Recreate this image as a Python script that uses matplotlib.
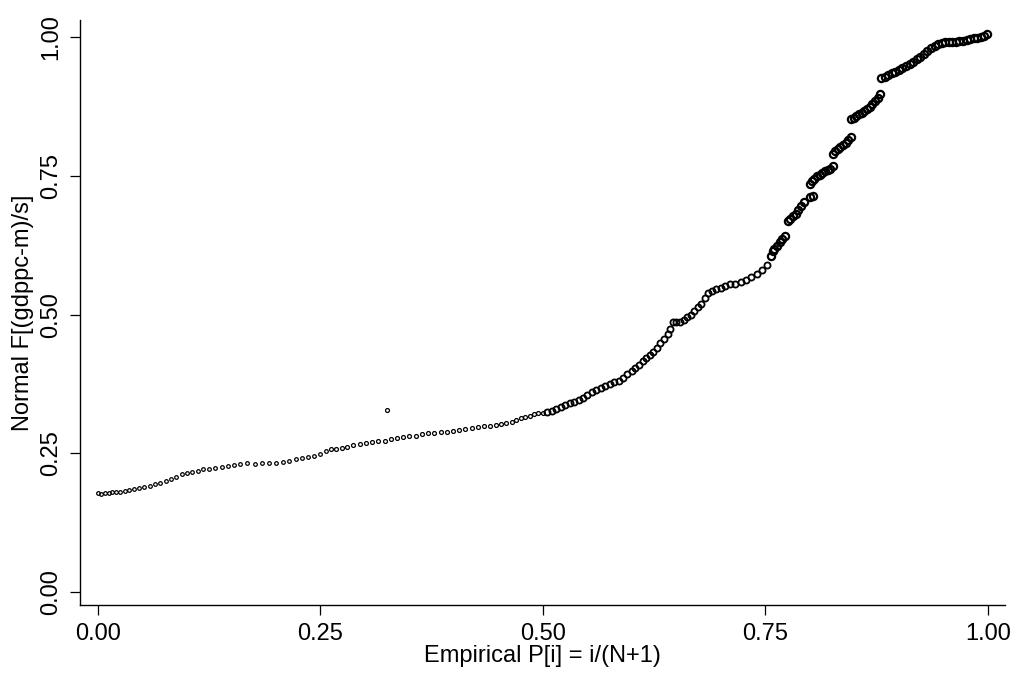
import matplotlib
matplotlib.use('Agg')
import matplotlib.pyplot as plt

# points, in pieces along the curve
# lower, flat part
p_low = [0.000, 0.004, 0.008, 0.012, 0.016, 0.020, 0.025, 0.030, 0.035, 0.040,
         0.046, 0.052, 0.058, 0.064, 0.070, 0.076, 0.082, 0.088, 0.094, 0.100,
         0.106, 0.112, 0.118, 0.125, 0.132, 0.139, 0.146, 0.153, 0.160, 0.168,
         0.176, 0.184, 0.192, 0.200, 0.208, 0.215, 0.222, 0.229, 0.236, 0.243,
         0.250, 0.256]
f_low = [0.178, 0.176, 0.179, 0.178, 0.180, 0.181, 0.180, 0.183, 0.184, 0.186,
         0.187, 0.190, 0.192, 0.194, 0.197, 0.200, 0.204, 0.208, 0.212, 0.215,
         0.217, 0.219, 0.221, 0.222, 0.224, 0.225, 0.227, 0.229, 0.231, 0.232,
         0.231, 0.232, 0.233, 0.233, 0.234, 0.236, 0.239, 0.241, 0.243, 0.246,
         0.249, 0.254]

# middle part, up to 0.50
p_mid = [0.262, 0.268, 0.274, 0.280, 0.287, 0.294, 0.301, 0.308, 0.315, 0.322,
         0.325, 0.329, 0.336, 0.343, 0.350, 0.357, 0.364, 0.371, 0.378, 0.385,
         0.392, 0.399, 0.406, 0.413, 0.420, 0.427, 0.434, 0.441, 0.447, 0.453,
         0.459, 0.465, 0.470, 0.475, 0.480, 0.485, 0.490, 0.495, 0.500]
f_mid = [0.257, 0.258, 0.260, 0.262, 0.265, 0.267, 0.269, 0.271, 0.272, 0.273,
         0.328, 0.275, 0.277, 0.279, 0.281, 0.282, 0.284, 0.286, 0.287, 0.288,
         0.289, 0.290, 0.292, 0.294, 0.295, 0.297, 0.299, 0.300, 0.301, 0.302,
         0.304, 0.307, 0.310, 0.314, 0.316, 0.318, 0.320, 0.322, 0.323]

# steep part, 0.50 - 0.75
p_steep = [0.505, 0.510, 0.515, 0.520, 0.525, 0.530, 0.535, 0.540, 0.545, 0.550,
           0.555, 0.560, 0.565, 0.570, 0.575, 0.580, 0.585, 0.590, 0.595, 0.600,
           0.604, 0.608, 0.612, 0.616, 0.620, 0.624, 0.628, 0.632, 0.636, 0.640,
           0.643, 0.646, 0.650, 0.654, 0.658, 0.662, 0.666, 0.670, 0.674, 0.678,
           0.682, 0.686, 0.690, 0.695, 0.700, 0.705, 0.710, 0.716, 0.722, 0.728,
           0.734, 0.740, 0.746, 0.752]
f_steep = [0.324, 0.327, 0.330, 0.333, 0.337, 0.340, 0.342, 0.346, 0.350, 0.356,
           0.360, 0.364, 0.368, 0.371, 0.375, 0.378, 0.381, 0.386, 0.393, 0.399,
           0.404, 0.410, 0.416, 0.422, 0.427, 0.432, 0.440, 0.448, 0.456, 0.465,
           0.474, 0.486, 0.487, 0.486, 0.490, 0.495, 0.500, 0.506, 0.513, 0.520,
           0.530, 0.539, 0.543, 0.546, 0.548, 0.552, 0.555, 0.556, 0.559, 0.563,
           0.567, 0.573, 0.580, 0.589]

# upper clusters
p_top = [0.756, 0.758, 0.760, 0.763, 0.766, 0.769, 0.772,
         0.775, 0.778, 0.781, 0.784, 0.787, 0.790, 0.793,
         0.800, 0.804,
         0.800, 0.802, 0.805, 0.808, 0.811, 0.814, 0.817, 0.820, 0.823, 0.826,
         0.826, 0.828, 0.831, 0.834, 0.837, 0.840, 0.843, 0.846,
         0.846, 0.849, 0.852, 0.855, 0.858, 0.861, 0.864, 0.867, 0.870, 0.873,
         0.876, 0.879,
         0.880, 0.884, 0.888, 0.892, 0.896, 0.900, 0.904, 0.908, 0.912, 0.916,
         0.920, 0.924, 0.928, 0.932, 0.936, 0.940, 0.944,
         0.948, 0.952, 0.956, 0.960, 0.964, 0.968, 0.972, 0.976, 0.980, 0.984,
         0.988, 0.992, 0.996, 0.999]
f_top = [0.605, 0.614, 0.618, 0.624, 0.630, 0.636, 0.642,
         0.668, 0.672, 0.677, 0.682, 0.688, 0.695, 0.703,
         0.712, 0.713,
         0.735, 0.740, 0.745, 0.749, 0.752, 0.756, 0.758, 0.760, 0.763, 0.767,
         0.790, 0.794, 0.798, 0.802, 0.806, 0.810, 0.814, 0.820,
         0.852, 0.855, 0.858, 0.861, 0.864, 0.867, 0.871, 0.875, 0.880, 0.885,
         0.891, 0.897,
         0.926, 0.929, 0.932, 0.935, 0.938, 0.941, 0.944, 0.948, 0.952, 0.956,
         0.960, 0.965, 0.970, 0.975, 0.980, 0.984, 0.988,
         0.990, 0.991, 0.991, 0.992, 0.992, 0.993, 0.994, 0.995, 0.997, 0.998,
         0.999, 1.000, 1.003, 1.006]

ticks = [0.0, 0.25, 0.5, 0.75, 1.0]
tick_labels = ['0.00', '0.25', '0.50', '0.75', '1.00']

plt.rcParams['font.family'] = ['Liberation Sans', 'DejaVu Sans']

fig = plt.figure(figsize=(10.16, 6.77), dpi=100)
ax = fig.add_axes([0.0787, 0.1063, 0.9103, 0.8642])

# thin dots in the lower half, heavier rings where the points pile up
for xs, ys, ms, mew in [(p_low, f_low, 2.6, 0.9), (p_mid, f_mid, 2.8, 0.9),
                        (p_steep, f_steep, 4.4, 1.3), (p_top, f_top, 5.2, 1.6)]:
    ax.plot(xs, ys, linestyle='none', marker='o', markersize=ms,
            markerfacecolor='none', markeredgecolor='black', markeredgewidth=mew)

ax.set_xlim(-0.0202, 1.019)
ax.set_ylim(-0.0234, 1.031)
ax.set_xticks(ticks)
ax.set_xticklabels(tick_labels)
ax.set_yticks(ticks)
ax.set_yticklabels(tick_labels, rotation=90, va='center')

ax.spines['top'].set_visible(False)
ax.spines['right'].set_visible(False)
ax.spines['left'].set_linewidth(1.0)
ax.spines['bottom'].set_linewidth(1.0)
ax.tick_params(axis='both', direction='out', length=7, width=0.9, labelsize=17,
               pad=6, colors='black')

ax.set_xlabel('Empirical P[i] = i/(N+1)', fontsize=17, labelpad=0)
ax.set_ylabel('Normal F[(gdppc-m)/s]', fontsize=17, labelpad=4)

plt.savefig('out.png', dpi=100)
plt.close()
